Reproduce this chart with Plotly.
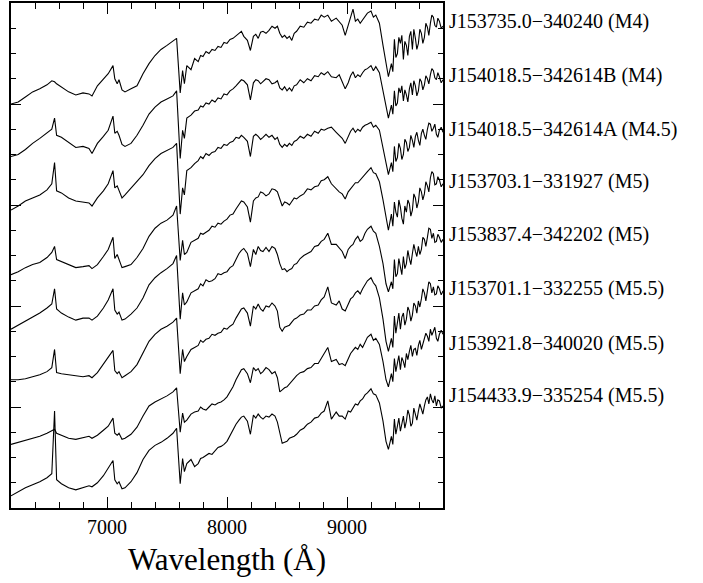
import plotly.graph_objects as go

# Common wavelength grid (Angstrom): coarse in the blue, finer across the
# telluric / molecular bands in the red
WAVELENGTH = [
    6200, 6260, 6320, 6380, 6440, 6500, 6540, 6563, 6580, 6620,
    6680, 6740, 6800, 6850, 6875, 6920, 6970, 7010, 7050, 7065,
    7085, 7100, 7125, 7150, 7200, 7250, 7300, 7350, 7400, 7450,
    7500, 7550, 7580, 7610, 7630, 7645, 7665,
    7700, 7730, 7760, 7780, 7800, 7825, 7850, 7875, 7900, 7925,
    7950, 7975, 8000, 8025, 8050, 8075, 8100, 8120, 8140, 8170,
    8195, 8220, 8240, 8260, 8280, 8300, 8325, 8350, 8375, 8400,
    8420, 8440, 8460, 8480, 8500, 8520, 8540, 8560, 8580, 8610,
    8640, 8670, 8700, 8730, 8760, 8785, 8810, 8840, 8870, 8910,
    8935, 8960, 8985, 9010, 9030, 9050, 9070, 9090, 9110, 9130,
    9150, 9170, 9200, 9220, 9240, 9270,
    9300, 9325, 9345, 9370, 9382, 9395, 9407, 9420, 9432, 9445,
    9457, 9470, 9482, 9495, 9507, 9520, 9532, 9545, 9557, 9570,
    9582, 9595, 9607, 9620, 9632, 9645, 9657, 9670, 9682, 9695,
    9707, 9720, 9732, 9745, 9757, 9770, 9785, 9800,
]

STAR_NAMES = [
    "J153735.0\u2212340240", "J154018.5\u2212342614B", "J154018.5\u2212342614A",
    "J153703.1\u2212331927", "J153837.4\u2212342202", "J153701.1\u2212332255",
    "J153921.8\u2212340020", "J154433.9\u2212335254",
]
SPECTRAL_TYPES = ["M4", "M4", "M4.5", "M5", "M5", "M5.5", "M5.5", "M5.5"]

# Vertical offset applied to each normalised spectrum
OFFSETS = [3.82, 3.28, 2.75, 2.23, 1.71, 1.17, 0.63, 0.11]

FLUX_1 = [
    0.18, 0.20, 0.25, 0.30, 0.33, 0.37, 0.41, 0.40, 0.38, 0.35,
    0.30, 0.27, 0.29, 0.28, 0.26, 0.36, 0.43, 0.48, 0.56, 0.43,
    0.38, 0.42, 0.32, 0.30, 0.33, 0.36, 0.48, 0.58, 0.66, 0.72,
    0.76, 0.80, 0.83, 0.29, 0.51, 0.38, 0.56,
    0.52, 0.63, 0.60, 0.66, 0.65, 0.70, 0.68, 0.72, 0.71, 0.75,
    0.74, 0.79, 0.78, 0.82, 0.83, 0.86, 0.88, 0.90, 0.85, 0.81,
    0.71, 0.85, 0.87, 0.83, 0.89, 0.90, 0.88, 0.91, 0.95, 0.93,
    0.95, 0.88, 0.84, 0.86, 0.83, 0.85, 0.81, 0.88, 0.90, 0.95,
    0.94, 0.99, 0.98, 1.02, 1.01, 1.06, 1.04, 1.06, 1.00, 1.03,
    0.99, 0.96, 0.86, 0.96, 1.05, 1.12, 1.00, 1.02, 0.98, 1.01,
    1.05, 1.08, 1.10, 1.04, 1.06, 0.98,
    0.76, 0.58, 0.45, 0.58, 0.50, 0.82, 0.64, 0.68, 0.84, 0.78,
    0.86, 0.62, 0.80, 0.76, 0.66, 0.85, 0.90, 0.72, 0.92, 0.83,
    0.72, 0.78, 0.92, 0.88, 0.78, 0.84, 0.98, 0.94, 0.86, 0.98,
    1.06, 1.04, 0.96, 0.94, 1.03, 1.00, 0.93, 0.95,
]
FLUX_2 = [
    0.20, 0.22, 0.27, 0.33, 0.38, 0.43, 0.47, 0.58, 0.41, 0.39,
    0.34, 0.29, 0.30, 0.28, 0.23, 0.33, 0.40, 0.46, 0.60, 0.43,
    0.45, 0.41, 0.32, 0.30, 0.33, 0.41, 0.51, 0.62, 0.69, 0.74,
    0.77, 0.80, 0.85, 0.18, 0.46, 0.38, 0.58,
    0.61, 0.65, 0.66, 0.70, 0.69, 0.73, 0.72, 0.76, 0.74, 0.78,
    0.77, 0.82, 0.81, 0.85, 0.87, 0.90, 0.93, 0.96, 0.95, 0.91,
    0.76, 0.93, 0.96, 0.95, 0.92, 0.94, 0.97, 0.96, 0.92, 0.93,
    0.95, 0.88, 0.86, 0.89, 0.85, 0.88, 0.85, 0.90, 0.91, 0.96,
    0.93, 0.97, 0.95, 1.00, 0.99, 1.03, 1.01, 1.04, 0.99, 0.98,
    1.01, 0.94, 0.87, 0.93, 1.00, 1.04, 0.98, 1.01, 0.99, 1.03,
    1.06, 1.07, 1.10, 1.05, 1.09, 1.03,
    0.85, 0.69, 0.58, 0.71, 0.62, 0.85, 0.70, 0.73, 0.88, 0.83,
    0.90, 0.75, 0.86, 0.81, 0.74, 0.87, 0.93, 0.81, 0.95, 0.90,
    0.80, 0.85, 0.97, 0.94, 0.86, 0.91, 1.00, 0.97, 0.92, 1.01,
    1.07, 1.05, 0.98, 0.96, 1.03, 0.99, 0.93, 0.96,
]
FLUX_3 = [
    0.20, 0.24, 0.29, 0.32, 0.35, 0.40, 0.46, 0.67, 0.39, 0.37,
    0.32, 0.29, 0.28, 0.27, 0.24, 0.32, 0.39, 0.46, 0.59, 0.42,
    0.44, 0.39, 0.32, 0.35, 0.42, 0.49, 0.55, 0.64, 0.71, 0.76,
    0.79, 0.82, 0.86, 0.16, 0.42, 0.35, 0.59,
    0.62, 0.66, 0.69, 0.73, 0.71, 0.76, 0.74, 0.77, 0.78, 0.82,
    0.81, 0.85, 0.84, 0.87, 0.88, 0.92, 0.91, 0.94, 0.92, 0.88,
    0.73, 0.93, 0.95, 0.93, 0.90, 0.92, 0.95, 0.92, 0.94, 0.90,
    0.92, 0.85, 0.82, 0.85, 0.83, 0.86, 0.84, 0.88, 0.89, 0.93,
    0.91, 0.95, 0.93, 0.98, 0.96, 1.00, 0.99, 1.01, 1.02, 0.97,
    0.94, 0.91, 0.86, 0.92, 0.98, 1.01, 0.97, 1.00, 0.98, 1.02,
    1.04, 1.05, 1.07, 1.02, 1.04, 0.99,
    0.82, 0.67, 0.55, 0.67, 0.58, 0.83, 0.68, 0.72, 0.86, 0.81,
    0.70, 0.75, 0.90, 0.87, 0.78, 0.82, 0.94, 0.89, 0.82, 0.93,
    0.97, 0.89, 0.84, 0.96, 1.00, 0.94, 0.90, 1.00, 1.06, 1.05,
    0.98, 1.01, 1.05, 0.95, 0.92, 0.99, 1.02, 0.97,
]
FLUX_4 = [
    0.08, 0.11, 0.15, 0.18, 0.20, 0.25, 0.30, 0.36, 0.23, 0.21,
    0.18, 0.15, 0.16, 0.17, 0.14, 0.18, 0.26, 0.33, 0.45, 0.24,
    0.28, 0.23, 0.15, 0.16, 0.18, 0.25, 0.34, 0.46, 0.54, 0.59,
    0.62, 0.67, 0.76, 0.22, 0.42, 0.28, 0.30,
    0.40, 0.42, 0.44, 0.49, 0.48, 0.50, 0.52, 0.56, 0.55, 0.59,
    0.58, 0.61, 0.63, 0.67, 0.68, 0.73, 0.77, 0.81, 0.80, 0.75,
    0.60, 0.81, 0.84, 0.85, 0.90, 0.89, 0.86, 0.88, 0.93, 0.92,
    0.90, 0.84, 0.76, 0.80, 0.79, 0.77, 0.80, 0.84, 0.83, 0.86,
    0.88, 0.93, 0.92, 0.95, 0.96, 1.01, 1.02, 1.05, 0.98, 0.93,
    0.90, 0.88, 0.83, 0.90, 0.93, 0.95, 0.99, 0.99, 1.02, 1.04,
    1.07, 1.10, 1.14, 1.09, 1.08, 1.00,
    0.82, 0.65, 0.52, 0.68, 0.56, 0.80, 0.70, 0.65, 0.82, 0.75,
    0.64, 0.58, 0.76, 0.70, 0.82, 0.78, 0.66, 0.72, 0.88, 0.84,
    0.74, 0.80, 0.94, 0.90, 0.82, 0.88, 1.00, 0.96, 0.90, 1.04,
    1.10, 1.08, 0.97, 0.98, 1.05, 1.02, 0.95, 0.98,
]
FLUX_5 = [
    0.06, 0.10, 0.14, 0.18, 0.22, 0.27, 0.31, 0.46, 0.26, 0.22,
    0.18, 0.15, 0.17, 0.17, 0.15, 0.19, 0.27, 0.35, 0.46, 0.25,
    0.21, 0.23, 0.15, 0.16, 0.21, 0.27, 0.37, 0.50, 0.57, 0.62,
    0.66, 0.71, 0.79, 0.16, 0.42, 0.30, 0.33,
    0.42, 0.44, 0.46, 0.51, 0.49, 0.55, 0.53, 0.54, 0.56, 0.61,
    0.60, 0.62, 0.63, 0.67, 0.69, 0.75, 0.81, 0.84, 0.86, 0.81,
    0.68, 0.85, 0.80, 0.88, 0.84, 0.83, 0.87, 0.83, 0.88, 0.86,
    0.80, 0.71, 0.65, 0.66, 0.63, 0.65, 0.66, 0.70, 0.71, 0.76,
    0.79, 0.81, 0.83, 0.88, 0.89, 0.93, 0.95, 1.01, 0.90, 0.90,
    0.87, 0.83, 0.76, 0.85, 0.88, 0.90, 0.95, 0.98, 0.93, 0.95,
    1.01, 1.05, 1.08, 1.03, 1.01, 0.88,
    0.71, 0.51, 0.43, 0.53, 0.46, 0.75, 0.58, 0.61, 0.76, 0.68,
    0.60, 0.78, 0.66, 0.71, 0.84, 0.76, 0.70, 0.81, 0.90, 0.83,
    0.78, 0.88, 0.80, 0.85, 0.97, 0.95, 0.88, 0.97, 1.06, 1.05,
    0.96, 1.01, 0.92, 0.93, 1.00, 0.97, 0.92, 0.95,
]
FLUX_6 = [
    0.10, 0.10, 0.11, 0.13, 0.15, 0.18, 0.22, 0.40, 0.17, 0.16,
    0.15, 0.14, 0.13, 0.14, 0.12, 0.17, 0.25, 0.32, 0.39, 0.19,
    0.16, 0.18, 0.12, 0.14, 0.18, 0.25, 0.36, 0.48, 0.55, 0.60,
    0.63, 0.67, 0.71, 0.16, 0.40, 0.28, 0.33,
    0.40, 0.42, 0.44, 0.49, 0.47, 0.50, 0.51, 0.55, 0.54, 0.56,
    0.57, 0.61, 0.60, 0.63, 0.65, 0.71, 0.76, 0.80, 0.81, 0.76,
    0.63, 0.83, 0.80, 0.85, 0.80, 0.78, 0.83, 0.82, 0.86, 0.83,
    0.78, 0.62, 0.58, 0.62, 0.63, 0.64, 0.67, 0.70, 0.71, 0.74,
    0.75, 0.79, 0.79, 0.83, 0.84, 0.89, 0.92, 1.02, 0.86, 0.84,
    0.88, 0.80, 0.78, 0.85, 0.90, 0.92, 0.96, 0.98, 0.95, 1.00,
    1.04, 1.08, 1.11, 1.06, 1.03, 0.91,
    0.70, 0.48, 0.38, 0.51, 0.42, 0.73, 0.56, 0.68, 0.76, 0.60,
    0.72, 0.76, 0.64, 0.70, 0.82, 0.78, 0.68, 0.74, 0.86, 0.83,
    0.76, 0.88, 0.82, 0.90, 1.00, 0.96, 0.88, 0.98, 1.07, 1.05,
    0.96, 1.02, 0.94, 0.95, 1.03, 1.00, 0.94, 0.98,
]
FLUX_7 = [
    0.00, 0.02, 0.04, 0.06, 0.08, 0.11, 0.14, 0.15, 0.11, 0.09,
    0.06, 0.05, 0.07, 0.08, 0.06, 0.09, 0.14, 0.18, 0.26, 0.11,
    0.09, 0.11, 0.05, 0.06, 0.10, 0.17, 0.28, 0.38, 0.42, 0.45,
    0.48, 0.52, 0.56, 0.12, 0.31, 0.22, 0.24,
    0.30, 0.32, 0.33, 0.37, 0.35, 0.34, 0.37, 0.40, 0.39, 0.41,
    0.42, 0.44, 0.47, 0.52, 0.57, 0.64, 0.70, 0.74, 0.75, 0.70,
    0.61, 0.76, 0.73, 0.75, 0.70, 0.72, 0.76, 0.74, 0.70, 0.72,
    0.66, 0.52, 0.54, 0.56, 0.57, 0.60, 0.62, 0.66, 0.68, 0.71,
    0.72, 0.75, 0.76, 0.80, 0.80, 0.85, 0.90, 0.96, 0.82, 0.84,
    0.79, 0.80, 0.78, 0.84, 0.90, 0.93, 0.96, 0.94, 0.99, 0.96,
    1.02, 1.06, 1.09, 1.03, 1.05, 0.99,
    0.82, 0.64, 0.57, 0.70, 0.62, 0.85, 0.72, 0.79, 0.88, 0.74,
    0.86, 0.82, 0.76, 0.90, 0.84, 0.92, 0.98, 0.87, 0.94, 0.95,
    0.88, 0.98, 1.03, 0.94, 1.00, 1.04, 1.10, 1.07, 1.02, 1.14,
    1.08, 1.12, 1.16, 1.05, 1.02, 1.09, 1.13, 1.09,
]
FLUX_8 = [
    0.01, 0.05, 0.09, 0.12, 0.15, 0.19, 0.23, 0.85, 0.17, 0.13,
    0.09, 0.07, 0.09, 0.11, 0.10, 0.14, 0.21, 0.28, 0.36, 0.17,
    0.13, 0.15, 0.08, 0.09, 0.15, 0.24, 0.37, 0.46, 0.51, 0.54,
    0.58, 0.63, 0.68, 0.13, 0.38, 0.25, 0.33,
    0.37, 0.30, 0.33, 0.38, 0.39, 0.41, 0.43, 0.42, 0.46, 0.49,
    0.50, 0.52, 0.55, 0.61, 0.67, 0.72, 0.76, 0.79, 0.80, 0.75,
    0.62, 0.81, 0.78, 0.82, 0.79, 0.77, 0.80, 0.79, 0.82, 0.80,
    0.74, 0.63, 0.53, 0.54, 0.55, 0.58, 0.59, 0.60, 0.62, 0.66,
    0.68, 0.72, 0.74, 0.78, 0.79, 0.83, 0.85, 0.95, 0.77, 0.84,
    0.80, 0.80, 0.77, 0.85, 0.84, 0.88, 0.92, 0.91, 0.95, 0.97,
    1.01, 1.03, 1.07, 1.02, 1.01, 0.93,
    0.75, 0.55, 0.47, 0.60, 0.52, 0.77, 0.62, 0.70, 0.78, 0.65,
    0.74, 0.80, 0.68, 0.75, 0.86, 0.81, 0.70, 0.73, 0.88, 0.83,
    0.76, 0.85, 0.92, 0.87, 0.82, 0.90, 0.96, 0.99, 0.92, 1.02,
    0.96, 0.93, 1.00, 0.90, 0.96, 0.95, 0.88, 0.90,
]

FLUXES = [FLUX_1, FLUX_2, FLUX_3, FLUX_4, FLUX_5, FLUX_6, FLUX_7, FLUX_8]
for flux in FLUXES:
    assert len(flux) == len(WAVELENGTH)

SERIF = "Liberation Serif"

fig = go.Figure()

for name, sptype, offset, flux in zip(STAR_NAMES, SPECTRAL_TYPES, OFFSETS, FLUXES):
    fig.add_trace(go.Scatter(
        x=WAVELENGTH,
        y=[offset + f for f in flux],
        mode="lines",
        line=dict(color="black", width=1.1),
        name=f"{name} ({sptype})",
        showlegend=False,
        hoverinfo="skip",
    ))
    fig.add_annotation(
        x=1.009, xref="paper", xanchor="left",
        y=offset + 1.0, yref="y", yanchor="middle",
        text=f"{name} ({sptype})",
        showarrow=False,
        font=dict(family=SERIF, size=20, color="black"),
    )

fig.add_annotation(
    x=0.5, xref="paper", xanchor="center",
    y=-0.102, yref="paper", yanchor="middle",
    text="Wavelength (\u00c5)",
    showarrow=False,
    font=dict(family=SERIF, size=31, color="black"),
)

fig.update_xaxes(
    range=[6200, 9800],
    showline=True, linecolor="black", linewidth=1.5,
    mirror="ticks",
    ticks="inside", ticklen=11, tickwidth=1, tickcolor="black",
    tick0=7000, dtick=1000, tickformat="d",
    minor=dict(ticks="inside", dtick=200, ticklen=6, tickwidth=1, tickcolor="black", showgrid=False),
    showgrid=False, zeroline=False,
    tickfont=dict(family=SERIF, size=20, color="black"),
)
fig.update_yaxes(
    range=[0, 5],
    showline=True, linecolor="black", linewidth=1.5,
    mirror="ticks",
    ticks="inside", ticklen=10, tickwidth=1, tickcolor="black",
    tick0=0, dtick=1,
    minor=dict(ticks="inside", dtick=0.25, ticklen=5, tickwidth=1, tickcolor="black", showgrid=False),
    showgrid=False, zeroline=False,
    showticklabels=False,
)

fig.update_layout(
    width=703, height=583,
    margin=dict(l=11, r=260, t=1, b=75),
    paper_bgcolor="white", plot_bgcolor="white",
    font=dict(family=SERIF, color="black"),
)

fig.write_html("out.html")
